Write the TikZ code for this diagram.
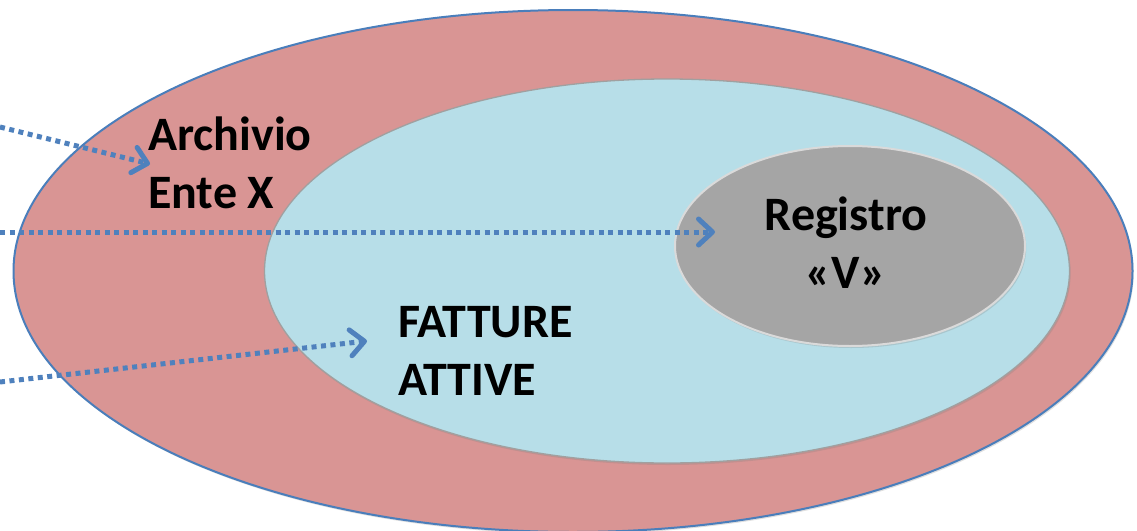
\documentclass[tikz,border=0pt]{standalone}
\usepackage{fontspec}
\setmainfont{Carlito}
\usetikzlibrary{shapes.geometric,arrows.meta,shadows}
\definecolor{outerfill}{HTML}{D99594}
\definecolor{outerline}{HTML}{4A7EBB}
\definecolor{midfill}{HTML}{B7DEE8}
\definecolor{midline}{HTML}{A0A0A0}
\definecolor{innerfill}{HTML}{A5A5A5}
\definecolor{innerline}{HTML}{DADADA}
\definecolor{arrowblue}{HTML}{4F81BD}
\begin{document}
\begin{tikzpicture}[x=1pt,y=-1pt,
  region/.style={ellipse, inner sep=0pt, drop shadow={shadow xshift=1.2pt, shadow yshift=-2pt, opacity=0.25}},
  lbl/.style={font=\bfseries\fontsize{48}{58}\selectfont, inner sep=0pt, text=black},
  arr/.style={draw=arrowblue, line width=5pt, dash pattern=on 5pt off 4.5pt, line cap=butt,
    -{Straight Barb[length=14pt,width=26pt,line width=5pt,round]}}]
\useasboundingbox (0,0) rectangle (1137,530);
\node[region, fill=outerfill, draw=outerline, line width=2pt,
  minimum width=1119pt, minimum height=522pt] (archivio) at (573,271) {};
\node[region, fill=midfill, draw=midline, line width=1.3pt,
  minimum width=805pt, minimum height=384pt] (fatture) at (667,271) {};
\node[region, fill=innerfill, draw=innerline, line width=2pt,
  minimum width=350pt, minimum height=200pt] (registro) at (850,246) {};
\node[lbl, align=left, anchor=base west] (tarch) at (148,208) {Archivio\\Ente X};
\node[lbl, align=left, anchor=base west] (tfatt) at (398,395) {FATTURE\\ATTIVE};
\node[lbl, align=center, anchor=base] (treg) at (846,288) {Registro\\«V»};
\coordinate (s1) at (0,127);
\coordinate (e1) at (150,164);
\coordinate (s2) at (0,232);
\coordinate (e2) at (715,232);
\coordinate (s3) at (0,382);
\coordinate (e3) at (367,341);
\draw[arr] (s1) -- (e1);
\draw[arr] (s2) -- (e2);
\draw[arr] (s3) -- (e3);
\end{tikzpicture}
\end{document}
